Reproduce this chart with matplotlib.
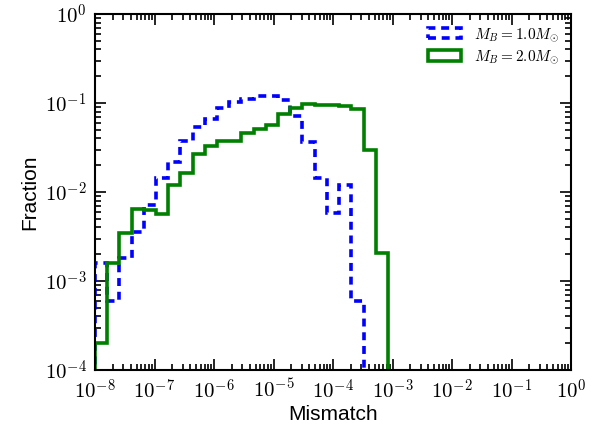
import numpy as np
import matplotlib
matplotlib.use("Agg")
import matplotlib.pyplot as plt
from matplotlib.ticker import LogLocator, NullFormatter, FuncFormatter

# log-spaced bin edges from 1e-8 to 1 (40 edges)
log_edges = np.linspace(-8, 0, 40)

labels = [r"$M_B = 1.0M_{\odot}$", r"$M_B = 2.0M_{\odot}$"]

frac_m1 = [1.61e-3, 6.0e-4, 1.80e-3, 3.58e-3, 7.14e-3, 0.0143, 0.0217, 0.0371,
           0.0535, 0.0664, 0.0871, 0.102, 0.111, 0.120, 0.121, 0.108, 0.0720,
           0.0367, 0.0143, 5.76e-3, 0.0120, 5.96e-4]
frac_m2 = [2.0e-4, 1.59e-3, 3.43e-3, 6.39e-3, 6.28e-3, 5.66e-3, 0.0120, 0.0162,
           0.0267, 0.0331, 0.0377, 0.0374, 0.0457, 0.0506, 0.0566, 0.0746,
           0.0871, 0.0975, 0.095, 0.095, 0.093, 0.085, 0.0296, 2.05e-3]

plt.rcParams['mathtext.fontset'] = 'cm'
plt.rcParams['font.family'] = ['Liberation Sans', 'DejaVu Sans']

fig = plt.figure(figsize=(5.96, 4.32), dpi=100)
ax = fig.add_axes([95/596, 1-370/432, (571-95)/596, (370-14)/432])

edges = 10 ** log_edges
e1 = edges[:len(frac_m1) + 1]
c1 = np.sqrt(e1[:-1] * e1[1:])
e2 = edges[:len(frac_m2) + 1]
c2 = np.sqrt(e2[:-1] * e2[1:])

ax.hist(c1, bins=e1, weights=frac_m1, histtype='step', color='b', lw=2.6,
        linestyle=(0, (2.2, 1.6)), label=labels[0], log=True)
ax.hist(c2, bins=e2, weights=frac_m2, histtype='step', color='g', lw=2.6,
        label=labels[1], log=True)

ax.set_xscale('log')
ax.set_yscale('log')
ax.set_xlim(1e-8, 1)
ax.set_ylim(1e-4, 1)

def logfmt(v, pos):
    e = int(round(np.log10(v)))
    return r"$10^{%d}$" % e

ax.xaxis.set_major_locator(LogLocator(base=10, numticks=20))
ax.xaxis.set_minor_locator(LogLocator(base=10, subs=np.arange(2, 10), numticks=20))
ax.yaxis.set_major_locator(LogLocator(base=10, numticks=20))
ax.yaxis.set_minor_locator(LogLocator(base=10, subs=np.arange(2, 10), numticks=20))
ax.xaxis.set_major_formatter(FuncFormatter(logfmt))
ax.yaxis.set_major_formatter(FuncFormatter(logfmt))
ax.xaxis.set_minor_formatter(NullFormatter())
ax.yaxis.set_minor_formatter(NullFormatter())

ax.tick_params(which='both', direction='in', top=True, right=True, width=1.2)
ax.tick_params(which='major', length=8, labelsize=15, pad=6)
ax.tick_params(which='minor', length=4)
for s in ax.spines.values():
    s.set_linewidth(1.5)

ax.set_xlabel('Mismatch', fontsize=15, labelpad=2)
ax.set_ylabel('Fraction', fontsize=15, labelpad=4)

leg = ax.legend(loc='upper right', frameon=False, fontsize=11,
                handlelength=2.2, borderaxespad=0.4, labelspacing=0.3)

fig.savefig('out.png', dpi=100)
